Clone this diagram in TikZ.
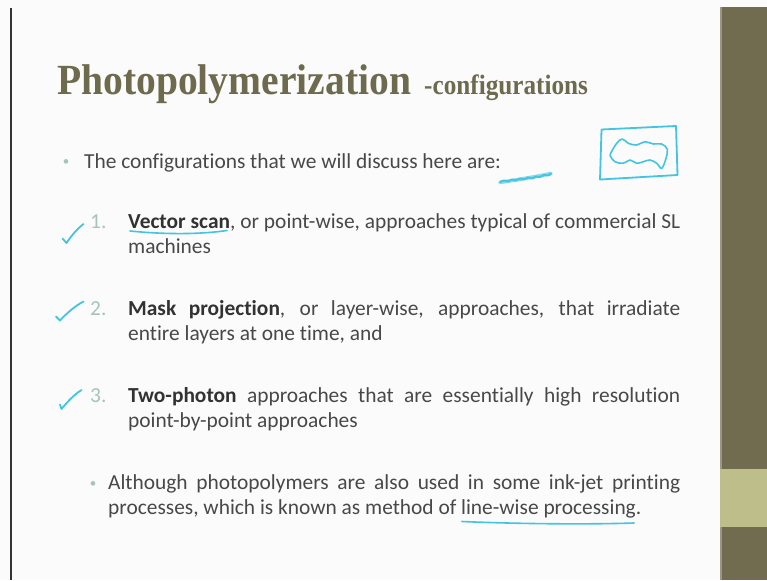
\documentclass[tikz,border=0pt]{standalone}
\usepackage{fontspec}
\setmainfont[RawFeature={-liga;-calt;-clig}]{Carlito}
\newfontfamily\titlefont[FakeStretch=0.92]{Liberation Serif}
\newfontfamily\subtitlefont[FakeStretch=0.9]{Liberation Serif}

\definecolor{pagebg}{RGB}{251,251,251}
\definecolor{barcol}{RGB}{113,107,79}
\definecolor{bandcol}{RGB}{189,190,138}
\definecolor{titlecol}{RGB}{110,106,78}
\definecolor{bodycol}{RGB}{72,72,72}
\definecolor{boldcol}{RGB}{50,50,50}
\definecolor{numcol}{RGB}{165,196,186}
\definecolor{pen}{RGB}{66,196,226}

\tikzset{
  line/.style={anchor=base west, inner sep=0pt, text=bodycol,
    font=\fontsize{21.4}{25}\selectfont},
  num/.style={anchor=base west, inner sep=0pt, text=numcol,
    font=\fontsize{21.4}{25}\selectfont},
  dot/.style={anchor=base, inner sep=0pt, text=numcol,
    font=\fontsize{13}{15}\selectfont},
  ink/.style={draw=pen, line width=1.8pt, line cap=round, line join=round},
}

\newcommand{\jline}[2]{\makebox[#1][s]{#2}}

\begin{document}
\begin{tikzpicture}[x=1pt,y=-1pt]
\useasboundingbox (0,0) rectangle (767,580);

% slide background, frame line and side bar
\fill[pagebg] (0,0) rectangle (767,580);
\fill[black!80] (10,8) rectangle (12,580);
\fill[barcol] (720,7) rectangle (767,580);
\fill[barcol!70!white] (720,7) rectangle (721.5,580);
\fill[bandcol] (720,469) rectangle (767,527);

% title
\node[anchor=base west, inner sep=0pt, text=titlecol,
  font=\titlefont\bfseries\fontsize{43}{43}\selectfont] (title) at (57,95) {Photopolymerization};
\node[anchor=base west, inner sep=0pt, text=titlecol,
  font=\subtitlefont\bfseries\fontsize{28}{28}\selectfont] (subtitle) at (424,95) {-configurations};

% introductory bullet
\node[dot] (b0) at (66,165) {\textbullet};
\node[line] (intro) at (84,168) {The configurations that we will discuss here are:};

% item 1
\node[num] (n1) at (90,228) {1.};
\node[line] (i1a) at (128,228) {\jline{552pt}{\textcolor{boldcol}{\textbf{Vector scan}}, or point-wise, approaches typical of commercial SL}};
\node[line] (i1b) at (128,253) {machines};

% item 2
\node[num] (n2) at (90,315.5) {2.};
\node[line] (i2a) at (128,315.5) {\jline{552pt}{\textcolor{boldcol}{\textbf{Mask projection}}, or layer-wise, approaches, that irradiate}};
\node[line] (i2b) at (128,340.5) {entire layers at one time, and};

% item 3
\node[num] (n3) at (90,402.5) {3.};
\node[line] (i3a) at (128,402.5) {\jline{552pt}{\textcolor{boldcol}{\textbf{Two-photon}} approaches that are essentially high resolution}};
\node[line] (i3b) at (128,427.5) {point-by-point approaches};

% sub bullet
\node[dot] (b1) at (93,487.5) {\textbullet};
\node[line] (s1a) at (108,489.5) {\jline{572pt}{Although photopolymers are also used in some ink-jet printing}};
\node[line] (s1b) at (108,514.5) {processes, which is known as method of line-wise processing.};

% pen annotations: check marks
\draw[ink] (62.5,238.5) -- (66.5,243) .. controls (72,235) and (77,229) .. (83.5,224);
\draw[ink] (56,316.5) -- (60,320.5) .. controls (67,313) and (75,306) .. (83.5,301.5);
\draw[ink] (60,404.5) -- (61.5,409) .. controls (68,401) and (75,394) .. (81.5,390);

% underlines
\draw[ink, line width=1.6pt] (130,231) .. controls (165,234.5) and (200,234.5) .. (227,230.5);
\draw[ink, line width=1.6pt] (462,521.5) .. controls (520,524) and (590,524.5) .. (634,523);

% sketch of a layer outline in a frame
\draw[ink] (601.5,129.5) -- (676,126) -- (677.5,175) -- (600,179.5) -- cycle;
\draw[ink, line width=1.6pt] plot[smooth cycle, tension=0.6] coordinates {
  (610.7,153.3) (616.7,143.3) (622.3,139) (628.3,143.3) (636.7,145)
  (645,141.7) (653.3,144) (661.7,144) (667.3,149.3) (666,158.3)
  (661.7,168.3) (656.7,163.3) (650,160) (643.3,161.7) (636.7,163.3)
  (630,160) (623.3,163.3) (615,161.7) (610.7,156.7)};

% scribble
\draw[ink, line width=3.6pt, opacity=0.6] (500,182.5) .. controls (515,180) and (535,177) .. (551,173.5);
\draw[ink, line width=2pt] plot[smooth] coordinates {
  (500,182) (504,180.5) (508,181.5) (512,179.5) (516,180.5) (520,178.5)
  (524,179.5) (528,177.5) (532,178.5) (536,176.5) (540,177) (544,175)
  (548,175.5) (551,173.5)};
\end{tikzpicture}
\end{document}
